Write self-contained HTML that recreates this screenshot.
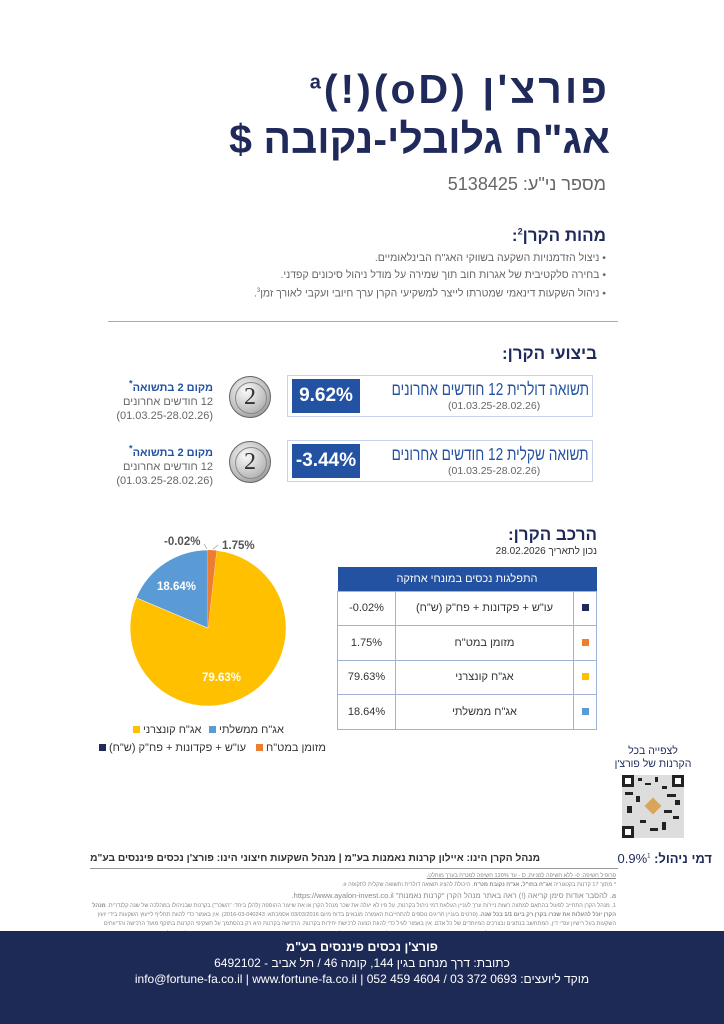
<!DOCTYPE html>
<html><head><meta charset="utf-8"><style>
*{margin:0;padding:0;box-sizing:border-box}
body{width:724px;height:1024px;background:#fff;position:relative;overflow:hidden;font-family:"Liberation Sans","Noto Sans CJK SC",sans-serif;color:#1f2a5a}
.a{position:absolute;white-space:nowrap}
.r{direction:rtl;text-align:right}
.t{font-weight:bold;font-size:41px;color:#1f2a5a;right:114px}
.g{color:#666}
.box{position:absolute;border:1.5px solid #c7d3ea;left:287px;width:306px;height:42px}
.val{position:absolute;left:4px;top:3px;width:68px;height:34px;background:#2452a3;color:#fff;font-size:19px;font-weight:bold;text-align:center;line-height:34px}
.coin{position:absolute;width:42px;height:42px;border-radius:50%;background:radial-gradient(circle at 40% 35%,#fafafa,#bbb 60%,#777);border:1px solid #666;text-align:center;font:24px "Liberation Serif",serif;color:#333;line-height:40px}
.coin:after{content:"";position:absolute;left:5px;top:5px;width:30px;height:30px;border-radius:50%;border:1px solid #888}
table{position:absolute;left:337px;top:567px;width:260px;border-collapse:collapse;font-size:11px;color:#333}
td{border:1px solid #9fb3d6;height:34.5px;text-align:center}
th{background:#2452a3;color:#fff;font-weight:normal;height:24px;font-size:11px;direction:rtl}
.sq{display:inline-block;width:7px;height:7px}
.fn{font-size:5.6px;color:#888;direction:rtl}
</style></head><body>
<div class="a t r" style="top:66px;letter-spacing:3px">פורצ'ן (oD)(!)<sup style="font-size:20px">a</sup></div>
<div class="a t r" style="top:116px">אג"ח גלובלי-נקובה $</div>
<div class="a r g" style="right:118px;top:174px;font-size:18px">מספר ני"ע: 5138425</div>
<div class="a r" style="right:118px;top:226px;font-size:17px;font-weight:bold">מהות הקרן<sup style="font-size:9px">2</sup>:</div>
<div class="a r g" style="right:118px;top:250px;font-size:10.5px;line-height:16.5px">• ניצול הזדמנויות השקעה בשווקי האג"ח הבינלאומיים.<br>• בחירה סלקטיבית של אגרות חוב תוך שמירה על מודל ניהול סיכונים קפדני.<br>• ניהול השקעות דינאמי שמטרתו לייצר למשקיעי הקרן ערך חיובי ועקבי לאורך זמן<sup style="font-size:6px">3</sup>.</div>
<div class="a" style="left:108px;top:321px;width:510px;height:1px;background:#aaa"></div>
<div class="a r" style="right:127px;top:344px;font-size:17px;font-weight:bold">ביצועי הקרן:</div>

<div class="box" style="top:375px"><div class="val">9.62%</div>
<div class="a r" style="right:3px;top:3px;font-size:17.5px;transform:scaleX(0.78);transform-origin:right;color:#2452a3">תשואה דולרית 12 חודשים אחרונים</div>
<div class="a g" style="left:160px;top:24px;font-size:10.5px">(01.03.25-28.02.26)</div></div>
<div class="box" style="top:440px"><div class="val">-3.44%</div>
<div class="a r" style="right:3px;top:3px;font-size:17.5px;transform:scaleX(0.78);transform-origin:right;color:#2452a3">תשואה שקלית 12 חודשים אחרונים</div>
<div class="a g" style="left:160px;top:24px;font-size:10.5px">(01.03.25-28.02.26)</div></div>
<div class="coin" style="left:229px;top:376px">2</div>
<div class="coin" style="left:229px;top:441px">2</div>
<div class="a r" style="right:511px;top:376px;font-size:11px;line-height:14px;text-align:right"><b style="color:#2452a3">מקום 2 בתשואה<sup>*</sup></b><br><span class="g">12 חודשים אחרונים</span><br><span class="g">(01.03.25-28.02.26)</span></div>
<div class="a r" style="right:511px;top:441px;font-size:11px;line-height:14px;text-align:right"><b style="color:#2452a3">מקום 2 בתשואה<sup>*</sup></b><br><span class="g">12 חודשים אחרונים</span><br><span class="g">(01.03.25-28.02.26)</span></div>

<div class="a r" style="right:127px;top:525px;font-size:17px;font-weight:bold">הרכב הקרן:</div>
<div class="a r" style="right:127px;top:546px;font-size:10px;color:#333">נכון לתאריך 28.02.2026</div>
<table>
<tr><th colspan="3">התפלגות נכסים במונחי אחזקה</th></tr>
<tr><td style="width:58px">-0.02%</td><td>עו"ש + פקדונות + פח"ק (ש"ח)</td><td style="width:23px"><span class="sq" style="background:#1f2a5a"></span></td></tr>
<tr><td>1.75%</td><td>מזומן במט"ח</td><td><span class="sq" style="background:#ed7d31"></span></td></tr>
<tr><td>79.63%</td><td>אג"ח קונצרני</td><td><span class="sq" style="background:#ffc000"></span></td></tr>
<tr><td>18.64%</td><td>אג"ח ממשלתי</td><td><span class="sq" style="background:#5b9bd5"></span></td></tr>
</table>

<svg class="a" style="left:0;top:0" width="724" height="1024">
<path d="M208,628 L216.6,550.5 A78,78 0 1 1 136.2,597.7 Z" fill="#ffc000" stroke="#fff" stroke-width="0.5"/>
<path d="M208,628 L136.2,597.7 A78,78 0 0 1 208,550 Z" fill="#5b9bd5" stroke="#fff" stroke-width="0.5"/>
<path d="M208,628 L208,550 A78,78 0 0 1 216.6,550.5 Z" fill="#ed7d31"/>
<line x1="207" y1="549" x2="204" y2="544" stroke="#999" stroke-width="0.7"/>
<line x1="213" y1="549" x2="218" y2="545" stroke="#999" stroke-width="0.7"/>
<g font-family="Liberation Sans" font-weight="bold" font-size="11.5">
<text x="164" y="545" fill="#555">-0.02%</text>
<text x="222" y="549" fill="#555">1.75%</text>
<text x="157" y="590" fill="#fff">18.64%</text>
<text x="202" y="681" fill="#fff">79.63%</text>
</g>
<g font-size="11" fill="#333" font-family="Liberation Sans, Noto Sans CJK SC, sans-serif">
<rect x="133" y="726" width="7" height="7" fill="#ffc000"/><text x="143" y="733">אג"ח קונצרני</text>
<rect x="209" y="726" width="7" height="7" fill="#5b9bd5"/><text x="219" y="733">אג"ח ממשלתי</text>
<rect x="99" y="744" width="7" height="7" fill="#1f2a5a"/><text x="109" y="751">עו"ש + פקדונות + פח"ק (ש"ח)</text>
<rect x="256" y="744" width="7" height="7" fill="#ed7d31"/><text x="266" y="751">מזומן במט"ח</text>
</g>
<g fill="#222">
<rect x="622" y="775" width="62" height="63" fill="#ddd"/>
<rect x="622" y="775" width="12" height="12"/><rect x="672" y="775" width="12" height="12"/><rect x="622" y="826" width="12" height="12"/>
<rect x="625" y="778" width="6" height="6" fill="#fff"/><rect x="675" y="778" width="6" height="6" fill="#fff"/><rect x="625" y="829" width="6" height="6" fill="#fff"/>
<rect x="638" y="778" width="4" height="3"/><rect x="645" y="783" width="6" height="2"/><rect x="655" y="777" width="3" height="5"/><rect x="662" y="786" width="5" height="3"/>
<rect x="625" y="792" width="8" height="3"/><rect x="636" y="796" width="4" height="6"/><rect x="667" y="794" width="9" height="3"/><rect x="675" y="800" width="5" height="5"/>
<rect x="627" y="806" width="5" height="7"/><rect x="664" y="810" width="8" height="3"/><rect x="640" y="820" width="6" height="3"/><rect x="650" y="828" width="8" height="3"/><rect x="662" y="822" width="4" height="8"/><rect x="673" y="816" width="6" height="3"/>
<rect x="647" y="800" width="12" height="12" fill="#d9a55a" transform="rotate(45 653 806)"/>
</g>
</svg>
<div class="a" style="left:600px;top:745px;width:106px;text-align:center;direction:rtl;font-size:10.5px;line-height:13px;color:#1f2a5a">לצפייה בכל<br>הקרנות של פורצ'ן</div>

<div class="a r" style="right:12px;top:851px;font-size:13px;font-weight:bold">דמי ניהול: <span style="font-weight:normal">0.9%<sup style="font-size:6px">1</sup></span></div>
<div class="a r" style="right:184px;top:853px;font-size:10.2px;font-weight:bold;color:#333">מנהל הקרן הינו: איילון קרנות נאמנות בע"מ | מנהל השקעות חיצוני הינו: פורצ'ן נכסים פיננסים בע"מ</div>
<div class="a" style="left:90px;top:868px;width:528px;height:1px;background:#999"></div>
<div class="a fn" style="top:872px;right:108px;line-height:9.3px;text-align:right;width:530px;white-space:normal">
<u>פרופיל חשיפה: 0- ללא חשיפה למניות, D - עד 120% חשיפה למט"ח בערך מוחלט.</u><br>
* מתוך 17 קרנות בקטגוריה <b>אג"ח בחו"ל, אג"ח נקובת מט"ח</b>. היכולת להציג תשואה דולרית ותשואה שקלית לתקופה זו.<br>
<span style="font-size:7.5px">a. להסבר אודות סימן קריאה (!) ראה באתר מנהל הקרן "קרנות נאמנות" https://www.ayalon-invest.co.il.</span><br>
1. מנהל הקרן התחייב לפעול בהתאם למתווה רשות ניירות ערך לעניין העלאת דמי ניהול בקרנות, על פיו לא יעלה את שכר מנהל הקרן או את שיעור ההוספה (להלן ביחד: "השכר") בקרנות שבניהולו במהלכה של שנה קלנדרית. <b>מנהל הקרן יוכל להעלות את שכרו בקרן רק ביום 1/1 בכל שנה.</b> (פרטים בעניין חריגים נוספים להתחייבות האמורה מובאים בדוח מיום 03/03/2016 אסמכתא: 2016-03-040243). אין באמור כדי להוות תחליף לייעוץ השקעות בידי יועץ השקעות בעל רישיון עפ"י דין, המתחשב בנתונים ובצרכים המיוחדים של כל אדם. אין באמור לעיל כדי להוות הצעה לרכישת יחידות בקרנות. הרכישה בקרנות היא רק בהסתמך על תשקיפי הקרנות בתוקף מועד הרכישה והדיווחים המיידיים. <b>אין בתשואת הקרן / מיקום הקרן בעבר כדי להבטיח תשואה/מיקום דומה בעתיד.</b> | 2. למדיניות השקעות מלאה ראה דוח שנתי ו\או דיווחים מידיים שבתוקף. | 3. אין התחייבות להשגת לתשואה.
</div>
<div class="a" style="left:0;top:931px;width:724px;height:93px;background:#1e2a56;color:#fff;text-align:center;direction:rtl">
<div style="font-size:12.5px;font-weight:bold;margin-top:9px">פורצ'ן נכסים פיננסים בע"מ</div>
<div style="font-size:12px;margin-top:2px">כתובת: דרך מנחם בגין 144, קומה 46 / תל אביב - 6492102</div>
<div style="font-size:12px;margin-top:2px">מוקד ליועצים: <bdi dir="ltr">052 459 4604 / 03 372 0693</bdi> | <bdi dir="ltr">www.fortune-fa.co.il</bdi> | <bdi dir="ltr">info@fortune-fa.co.il</bdi></div>
</div>
</body></html>
